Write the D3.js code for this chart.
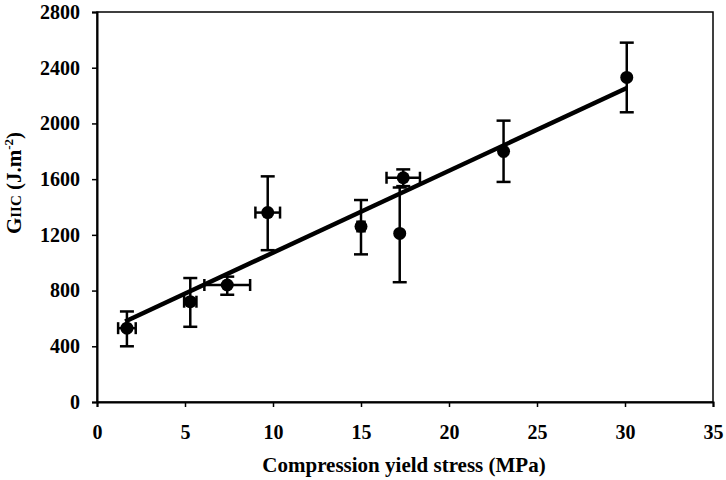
<!DOCTYPE html>
<html>
<head>
<meta charset="utf-8">
<script src="https://cdn.jsdelivr.net/npm/d3@7"></script>
<style>
  body { margin: 0; background: #fff; }
  svg text { font-family: "Liberation Serif", "Times New Roman", serif; font-weight: bold; fill: #000; }
</style>
</head>
<body>
<div id="chart"></div>
<script>
// Values
var stress   = [1.7, 5.3, 7.4, 9.7, 15.0, 17.4, 17.2, 23.1, 30.1];   // MPa
var gIIc     = [530, 720, 840, 1360, 1260, 1610, 1210, 1800, 2330]; // J/m2
var errUp    = [120, 170, 60, 260, 190, 60, 330, 220, 250];
var errDown  = [130, 180, 70, 270, 200, 60, 350, 220, 250];
var errX     = [0.5, 0.35, 1.3, 0.7, 0.2, 0.95, 0.0, 0.1, 0.0];
var fitLine  = [[1.6, 578], [30.1, 2254]];
var xTicks   = [0, 5, 10, 15, 20, 25, 30, 35];
var yTicks   = [0, 400, 800, 1200, 1600, 2000, 2400, 2800];

var width = 726, height = 480;
var margin = {left: 97, right: 13, top: 12, bottom: 78};

var svg = d3.select("#chart").append("svg")
    .attr("width", width)
    .attr("height", height);

var x = d3.scaleLinear().domain([0, 35]).range([margin.left, width - margin.right]);
var y = d3.scaleLinear().domain([0, 2800]).range([height - margin.bottom, margin.top]);

// frame
svg.append("rect")
    .attr("x", x(0)).attr("y", y(2800))
    .attr("width", x(35) - x(0)).attr("height", y(0) - y(2800))
    .attr("fill", "none").attr("stroke", "#000").attr("stroke-width", 1.5);

// axes
var xAxis = svg.append("g")
    .attr("transform", "translate(0," + y(0) + ")")
    .call(d3.axisBottom(x).tickValues(xTicks).tickFormat(d3.format("d")).tickSize(5).tickPadding(18));
var yAxis = svg.append("g")
    .attr("transform", "translate(" + x(0) + ",0)")
    .call(d3.axisLeft(y).tickValues(yTicks).tickFormat(d3.format("d")).tickSize(5).tickPadding(12));

[xAxis, yAxis].forEach(function(a) {
    a.select(".domain").attr("stroke-width", 2);
    a.selectAll(".tick line").attr("stroke-width", 1.5);
    a.selectAll(".tick text").style("font-size", "20px").attr("fill", "#000");
});

// regression line
svg.append("path")
    .datum(fitLine)
    .attr("d", d3.line().x(function(d){ return x(d[0]); }).y(function(d){ return y(d[1]); }))
    .attr("stroke", "#000").attr("stroke-width", 4.5).attr("fill", "none");

var pts = stress.map(function(s, i) {
    return {x: s, y: gIIc[i], up: errUp[i], down: errDown[i], ex: errX[i]};
});

var g = svg.append("g").attr("stroke", "#000").attr("stroke-width", 2.5);

// vertical error bars
g.selectAll(".vbar").data(pts).enter().append("line")
    .attr("x1", function(d){ return x(d.x); }).attr("x2", function(d){ return x(d.x); })
    .attr("y1", function(d){ return y(d.y + d.up); }).attr("y2", function(d){ return y(d.y - d.down); });
g.selectAll(".vcapT").data(pts).enter().append("line")
    .attr("x1", function(d){ return x(d.x) - 7; }).attr("x2", function(d){ return x(d.x) + 7; })
    .attr("y1", function(d){ return y(d.y + d.up); }).attr("y2", function(d){ return y(d.y + d.up); });
g.selectAll(".vcapB").data(pts).enter().append("line")
    .attr("x1", function(d){ return x(d.x) - 7; }).attr("x2", function(d){ return x(d.x) + 7; })
    .attr("y1", function(d){ return y(d.y - d.down); }).attr("y2", function(d){ return y(d.y - d.down); });

// horizontal error bars
var hp = pts.filter(function(d){ return d.ex > 0; });
g.selectAll(".hbar").data(hp).enter().append("line")
    .attr("x1", function(d){ return x(d.x - d.ex); }).attr("x2", function(d){ return x(d.x + d.ex); })
    .attr("y1", function(d){ return y(d.y); }).attr("y2", function(d){ return y(d.y); });
g.selectAll(".hcapL").data(hp).enter().append("line")
    .attr("x1", function(d){ return x(d.x - d.ex); }).attr("x2", function(d){ return x(d.x - d.ex); })
    .attr("y1", function(d){ return y(d.y) - 6; }).attr("y2", function(d){ return y(d.y) + 6; });
g.selectAll(".hcapR").data(hp).enter().append("line")
    .attr("x1", function(d){ return x(d.x + d.ex); }).attr("x2", function(d){ return x(d.x + d.ex); })
    .attr("y1", function(d){ return y(d.y) - 6; }).attr("y2", function(d){ return y(d.y) + 6; });

// markers
svg.selectAll(".dot").data(pts).enter().append("circle")
    .attr("cx", function(d){ return x(d.x); })
    .attr("cy", function(d){ return y(d.y); })
    .attr("r", 6.5)
    .attr("fill", "#000");

// axis titles
svg.append("text")
    .attr("x", 404).attr("y", 472)
    .attr("text-anchor", "middle")
    .style("font-size", "21px")
    .text("Compression yield stress (MPa)");

var yt = svg.append("text")
    .attr("transform", "translate(21,183) rotate(-90)")
    .attr("text-anchor", "middle")
    .style("font-size", "21px");
yt.append("tspan").text("G");
yt.append("tspan").style("font-size", "15px").text("IIC");
yt.append("tspan").text(" (J.m");
yt.append("tspan").style("font-size", "13px").attr("dy", -8).text("-2");
yt.append("tspan").attr("dy", 8).text(")");
</script>
</body>
</html>
